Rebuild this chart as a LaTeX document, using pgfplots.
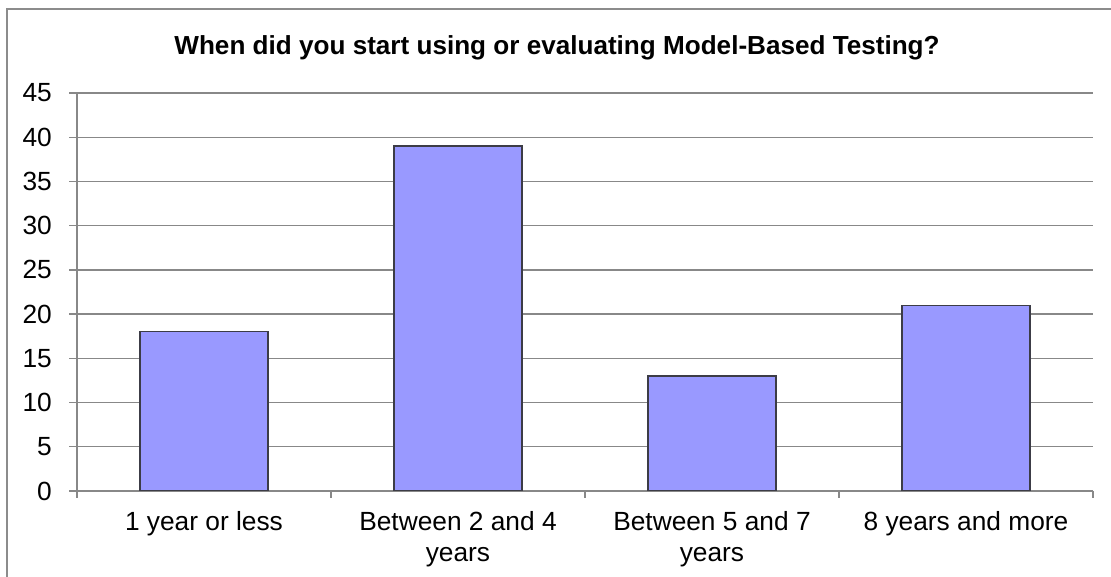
\documentclass[border=0pt]{standalone}
\usepackage{fontspec}
\setmainfont{Liberation Sans}
\usepackage{pgfplots}
\pgfplotsset{compat=1.18}
\definecolor{barfill}{HTML}{9999FF}
\definecolor{baredge}{HTML}{3C3C46}
\definecolor{gridc}{HTML}{888888}
\definecolor{framec}{HTML}{8C8C8C}
\begin{document}
\begin{tikzpicture}[x=1bp,y=1bp]
\useasboundingbox (0,0) rectangle (1111,577);
\fill[white] (0,0) rectangle (1111,577);
\draw[framec, line width=2bp] (7,0) -- (7,568) -- (1111,568);
\node[anchor=base, inner sep=0pt, font=\fontsize{26.1bp}{30bp}\selectfont\bfseries] at (557,522) {When did you start using or evaluating Model-Based Testing?};
\begin{axis}[
  at={(77bp,86bp)}, anchor=south west,
  scale only axis, width=1016bp, height=398bp,
  xmin=-0.5, xmax=3.5, ymin=0, ymax=45,
  ytick={0,5,...,45},
  xtick={0,1,2,3},
  xticklabels={1 year or less, {Between 2 and 4\\years}, {Between 5 and 7\\years}, 8 years and more},
  minor xtick={-0.5,0.5,1.5,2.5,3.5},
  axis lines*=left,
  axis line style={gridc, line width=1.3bp},
  ymajorgrids,
  grid style={gridc, line width=1.3bp},
  tick align=outside,
  major tick length=8bp,
  minor tick length=7bp,
  major x tick style={draw=none},
  minor x tick style={gridc, line width=1.3bp},
  major y tick style={gridc, line width=1.3bp},
  tick label style={font=\fontsize{26.3bp}{31bp}\selectfont, inner sep=0pt},
  x tick label style={align=center, anchor=north},
  y tick label style={anchor=east},
  /pgf/number format/assume math mode=true,
  xticklabel shift=12bp,
  yticklabel shift=17bp,
]
\addplot[ybar, bar width=0.504, fill=barfill, draw=baredge, line width=1.3bp]
  coordinates {(0,18) (1,39) (2,13) (3,21)};
\end{axis}
\end{tikzpicture}
\end{document}
